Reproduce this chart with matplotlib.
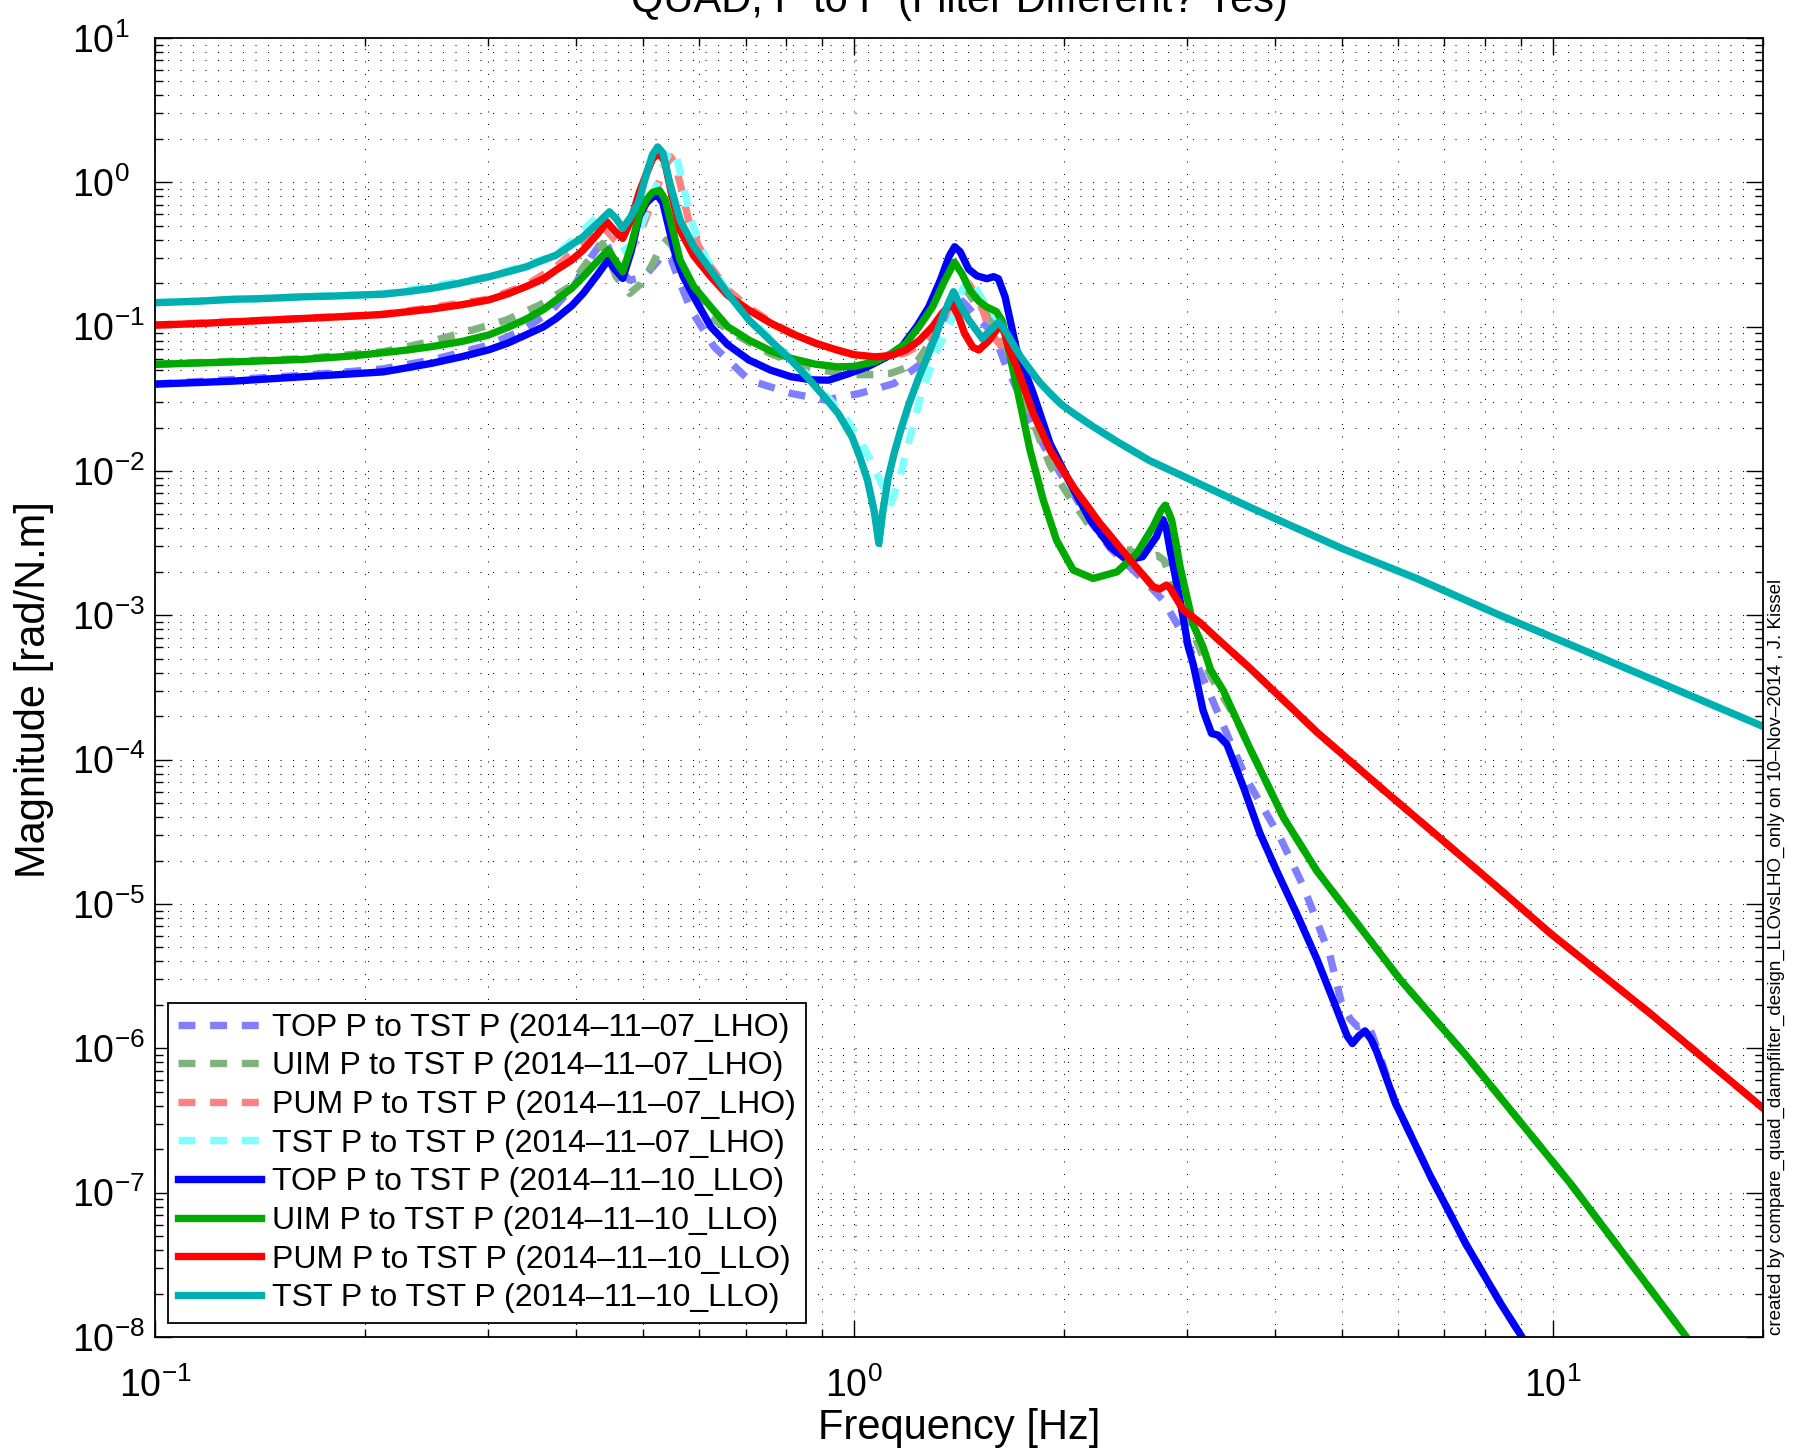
import numpy as np
import matplotlib.pyplot as plt
from matplotlib.ticker import LogLocator, NullFormatter

plt.rcParams['font.family'] = ['Liberation Sans', 'DejaVu Sans']
plt.rcParams['mathtext.fontset'] = 'custom'
plt.rcParams['mathtext.rm'] = 'Liberation Sans'
plt.rcParams['mathtext.default'] = 'regular'

# --- data: (frequency [Hz], magnitude [rad/N.m]) ---
top_lho = [(0.10, 0.040), (0.163, 0.046), (0.212, 0.051), (0.25, 0.059), (0.30, 0.0745),
           (0.336, 0.0946), (0.37, 0.13), (0.40, 0.20), (0.42, 0.30), (0.44, 0.41),
           (0.457, 0.26), (0.478, 0.21), (0.50, 0.22), (0.516, 0.26), (0.535, 0.32),
           (0.547, 0.30), (0.56, 0.22), (0.585, 0.130), (0.631, 0.0726), (0.708, 0.0426),
           (0.813, 0.0345), (0.91, 0.031), (1.02, 0.0345), (1.142, 0.0404), (1.25, 0.0557),
           (1.31, 0.085), (1.363, 0.130), (1.41, 0.16), (1.45, 0.14), (1.50, 0.115),
           (1.55, 0.10), (1.60, 0.08), (1.64, 0.058), (1.72, 0.035), (1.787, 0.0225),
           (1.90, 0.013), (2.04, 0.0075), (2.18, 0.0045), (2.33, 0.0029), (2.50, 0.0021),
           (2.65, 0.0016), (2.77, 0.00127), (2.96, 7.4e-4), (3.20, 3.2e-4), (3.42, 1.5e-4),
           (3.65, 7.3e-5), (4.07, 2.92e-5), (4.40, 1.32e-5), (4.80, 4.41e-6), (4.98, 2.12e-6),
           (5.13, 1.6e-6), (5.26, 1.41e-6), (5.36, 1.45e-6), (5.45, 1.45e-6), (5.55, 1.15e-6),
           (5.70, 8.0e-7), (5.96, 4.15e-7), (6.69, 1.29e-7), (7.51, 4.43e-8), (8.43, 1.70e-8),
           (9.04, 1.0e-8), (9.6, 5.5e-9)]

uim_lho = [(0.10, 0.055), (0.163, 0.060), (0.212, 0.067), (0.247, 0.0785), (0.285, 0.095),
           (0.318, 0.111), (0.355, 0.141), (0.392, 0.189), (0.414, 0.275), (0.437, 0.377),
           (0.457, 0.222), (0.478, 0.17), (0.497, 0.20), (0.515, 0.27), (0.53, 0.36),
           (0.54, 0.40), (0.55, 0.36), (0.565, 0.25), (0.585, 0.17), (0.62, 0.12),
           (0.66, 0.095), (0.708, 0.078), (0.76, 0.065), (0.813, 0.057), (0.88, 0.051),
           (0.946, 0.048), (1.0, 0.0465), (1.07, 0.0465), (1.127, 0.0474), (1.19, 0.052),
           (1.236, 0.0587), (1.29, 0.08), (1.34, 0.12), (1.38, 0.16), (1.42, 0.20),
           (1.46, 0.17), (1.50, 0.14), (1.55, 0.12), (1.60, 0.10), (1.65, 0.075),
           (1.70, 0.05), (1.787, 0.025), (1.85, 0.016), (1.909, 0.011), (2.0, 0.0075),
           (2.18, 0.0041), (2.35, 0.0031), (2.50, 0.00277), (2.62, 0.0025), (2.72, 0.0026),
           (2.78, 0.0024), (2.835, 0.00186), (2.95, 0.0011), (3.10, 6.5e-4), (3.24, 3.8e-4),
           (3.52, 1.94e-4), (3.69, 1.19e-4), (4.12, 3.97e-5), (4.60, 1.69e-5), (5.13, 8.5e-6),
           (6.05, 3.0e-6), (7.51, 9.0e-7), (10.6, 1.16e-7), (15.4, 1.06e-8), (16.5, 6.5e-9)]

pum_lho = [(0.10, 0.1026), (0.163, 0.114), (0.212, 0.1216), (0.30, 0.155), (0.34, 0.195),
           (0.375, 0.26), (0.41, 0.38), (0.425, 0.45), (0.437, 0.50), (0.455, 0.40),
           (0.475, 0.33), (0.49, 0.40), (0.505, 0.58), (0.52, 0.85), (0.535, 1.25),
           (0.547, 1.50), (0.555, 1.35), (0.565, 0.95), (0.58, 0.55), (0.60, 0.36),
           (0.624, 0.26), (0.66, 0.18), (0.708, 0.135), (0.76, 0.108), (0.813, 0.091),
           (0.88, 0.077), (0.946, 0.069), (1.0, 0.064), (1.072, 0.0615), (1.13, 0.062),
           (1.187, 0.066), (1.24, 0.074), (1.30, 0.09), (1.36, 0.12), (1.42, 0.17),
           (1.46, 0.20), (1.50, 0.16), (1.53, 0.13), (1.57, 0.09), (1.62, 0.075),
           (1.667, 0.06), (1.71, 0.05), (1.806, 0.0251), (1.909, 0.01396), (2.06, 0.00778),
           (2.25, 0.00434), (2.51, 0.00229), (2.68, 0.00158), (2.74, 0.00152), (2.80, 0.00162),
           (2.835, 0.00155), (2.96, 0.00109), (3.13, 8.9e-4), (3.30, 7.0e-4), (3.69, 4.3e-4),
           (4.60, 1.55e-4), (5.72, 6.2e-5), (7.13, 2.5e-5), (8.41, 1.26e-5), (9.91, 6.3e-6),
           (13.8, 1.74e-6), (20.0, 3.85e-7)]

tst_lho = [(0.10, 0.1466), (0.163, 0.161), (0.212, 0.168), (0.301, 0.222), (0.375, 0.313),
           (0.409, 0.46), (0.425, 0.55), (0.437, 0.60), (0.455, 0.45), (0.47, 0.34),
           (0.485, 0.38), (0.50, 0.55), (0.515, 0.80), (0.53, 1.2), (0.542, 1.55),
           (0.55, 1.67), (0.558, 1.5), (0.57, 0.95), (0.585, 0.55), (0.60, 0.38),
           (0.624, 0.26), (0.66, 0.175), (0.708, 0.115), (0.76, 0.082), (0.813, 0.060),
           (0.86, 0.046), (0.92, 0.032), (0.97, 0.024), (1.02, 0.0164), (1.06, 0.0115),
           (1.10, 0.0078), (1.132, 0.006), (1.16, 0.0085), (1.187, 0.01324), (1.22, 0.022),
           (1.25, 0.0345), (1.31, 0.0653), (1.38, 0.111), (1.43, 0.18), (1.465, 0.22),
           (1.50, 0.18), (1.545, 0.14), (1.59, 0.12), (1.63, 0.105), (1.66, 0.09),
           (1.70, 0.072), (1.733, 0.0618), (1.80, 0.048), (1.85, 0.0405), (1.909, 0.0345),
           (1.98, 0.029), (2.06, 0.0252), (2.20, 0.0203), (2.38, 0.016), (2.65, 0.0118),
           (2.96, 0.0092), (3.69, 0.0056), (5.0, 0.0029), (6.39, 0.0018), (8.41, 1.0e-3),
           (11.3, 5.5e-4), (20.0, 1.70e-4)]

top_llo = [(0.10, 0.040), (0.115, 0.041), (0.13, 0.042), (0.163, 0.045), (0.19, 0.047),
           (0.212, 0.0486), (0.23, 0.052), (0.25, 0.056), (0.275, 0.062), (0.30, 0.069),
           (0.32, 0.077), (0.34, 0.088), (0.36, 0.100), (0.375, 0.114), (0.395, 0.14),
           (0.41, 0.17), (0.43, 0.23), (0.445, 0.29), (0.455, 0.25), (0.467, 0.216),
           (0.48, 0.33), (0.493, 0.58), (0.505, 0.72), (0.515, 0.79), (0.524, 0.81),
           (0.533, 0.72), (0.545, 0.46), (0.557, 0.30), (0.57, 0.222), (0.595, 0.15),
           (0.624, 0.100), (0.66, 0.075), (0.708, 0.0587), (0.76, 0.050), (0.813, 0.045),
           (0.87, 0.0428), (0.921, 0.0426), (0.98, 0.047), (1.046, 0.0527), (1.11, 0.061),
           (1.171, 0.0726), (1.23, 0.100), (1.28, 0.137), (1.33, 0.21), (1.37, 0.31),
           (1.394, 0.358), (1.42, 0.33), (1.46, 0.25), (1.50, 0.225), (1.55, 0.215),
           (1.585, 0.222), (1.61, 0.215), (1.646, 0.161), (1.71, 0.0689), (1.806, 0.0345),
           (1.909, 0.0155), (2.04, 0.0082), (2.18, 0.00457), (2.33, 0.00298), (2.46, 0.00241),
           (2.59, 0.00255), (2.71, 0.0035), (2.77, 0.0046), (2.80, 0.0040), (2.835, 0.00283),
           (2.93, 0.00127), (3.01, 6.05e-4), (3.06, 4.57e-4), (3.16, 2.2e-4), (3.25, 1.52e-4),
           (3.32, 1.48e-4), (3.42, 1.27e-4), (3.61, 6.47e-5), (3.81, 3.11e-5), (4.03, 1.69e-5),
           (4.30, 8.63e-6), (4.60, 4.14e-6), (4.86, 2.12e-6), (5.08, 1.22e-6), (5.17, 1.08e-6),
           (5.28, 1.22e-6), (5.39, 1.32e-6), (5.50, 1.15e-6), (5.60, 9.5e-7), (5.96, 4.15e-7),
           (6.69, 1.29e-7), (7.51, 4.43e-8), (8.43, 1.70e-8), (9.04, 1.0e-8), (9.6, 5.5e-9)]

uim_llo = [(0.10, 0.0548), (0.115, 0.056), (0.13, 0.057), (0.163, 0.0593), (0.19, 0.0625),
           (0.212, 0.066), (0.23, 0.069), (0.25, 0.073), (0.275, 0.079), (0.30, 0.0875),
           (0.32, 0.099), (0.34, 0.113), (0.36, 0.132), (0.375, 0.153), (0.395, 0.185),
           (0.41, 0.222), (0.43, 0.285), (0.445, 0.34), (0.455, 0.29), (0.467, 0.24),
           (0.48, 0.36), (0.493, 0.60), (0.505, 0.76), (0.515, 0.85), (0.527, 0.88),
           (0.537, 0.76), (0.55, 0.48), (0.564, 0.29), (0.59, 0.19), (0.624, 0.137),
           (0.66, 0.10), (0.708, 0.0807), (0.76, 0.068), (0.813, 0.0603), (0.88, 0.055),
           (0.946, 0.0527), (1.0, 0.053), (1.072, 0.0572), (1.13, 0.065), (1.187, 0.0766),
           (1.24, 0.10), (1.296, 0.137), (1.35, 0.21), (1.393, 0.28), (1.43, 0.23),
           (1.465, 0.18), (1.51, 0.15), (1.549, 0.137), (1.60, 0.127), (1.63, 0.11),
           (1.654, 0.0807), (1.71, 0.0384), (1.787, 0.01396), (1.867, 0.00628), (1.95, 0.00332),
           (2.06, 0.00206), (2.20, 0.0018), (2.38, 0.0020), (2.54, 0.00268), (2.68, 0.0041),
           (2.75, 0.0053), (2.79, 0.0058), (2.82, 0.0052), (2.85, 0.00457), (2.90, 0.0029),
           (2.93, 0.00217), (3.06, 8.6e-4), (3.16, 6.05e-4), (3.24, 4.2e-4), (3.38, 3.0e-4),
           (3.69, 1.19e-4), (4.12, 3.97e-5), (4.60, 1.69e-5), (5.13, 8.5e-6), (6.05, 3.0e-6),
           (7.51, 9.0e-7), (10.6, 1.16e-7), (15.4, 1.06e-8), (16.5, 6.5e-9)]

pum_llo = [(0.10, 0.1026), (0.115, 0.105), (0.13, 0.108), (0.163, 0.114), (0.19, 0.118),
           (0.212, 0.1216), (0.23, 0.127), (0.25, 0.133), (0.275, 0.142), (0.30, 0.153),
           (0.32, 0.169), (0.34, 0.19), (0.36, 0.215), (0.375, 0.247), (0.395, 0.29),
           (0.41, 0.34), (0.43, 0.44), (0.443, 0.533), (0.455, 0.46), (0.467, 0.409),
           (0.48, 0.55), (0.493, 0.85), (0.505, 1.15), (0.515, 1.45), (0.526, 1.60),
           (0.536, 1.40), (0.548, 0.85), (0.564, 0.467), (0.59, 0.31), (0.624, 0.222),
           (0.66, 0.165), (0.708, 0.130), (0.76, 0.106), (0.813, 0.090), (0.88, 0.077),
           (0.946, 0.0689), (1.0, 0.064), (1.072, 0.0618), (1.13, 0.063), (1.187, 0.0689),
           (1.24, 0.080), (1.296, 0.100), (1.34, 0.125), (1.38, 0.145), (1.41, 0.12),
           (1.44, 0.090), (1.48, 0.072), (1.51, 0.0689), (1.56, 0.080), (1.605, 0.097),
           (1.625, 0.10), (1.645, 0.09), (1.667, 0.07), (1.71, 0.0527), (1.806, 0.0251),
           (1.909, 0.01396), (2.06, 0.00778), (2.25, 0.00434), (2.51, 0.00229), (2.68, 0.00158),
           (2.74, 0.00152), (2.80, 0.00162), (2.835, 0.00155), (2.96, 0.00109), (3.13, 8.9e-4),
           (3.30, 7.0e-4), (3.69, 4.3e-4), (4.60, 1.55e-4), (5.72, 6.2e-5), (7.13, 2.5e-5),
           (8.41, 1.26e-5), (9.91, 6.3e-6), (13.8, 1.74e-6), (20.0, 3.85e-7)]

tst_llo = [(0.10, 0.1466), (0.115, 0.150), (0.13, 0.155), (0.14, 0.156), (0.163, 0.161),
           (0.18, 0.163), (0.212, 0.168), (0.23, 0.175), (0.25, 0.185), (0.27, 0.198),
           (0.301, 0.222), (0.32, 0.24), (0.34, 0.26), (0.355, 0.283), (0.375, 0.313),
           (0.39, 0.355), (0.409, 0.416), (0.43, 0.52), (0.447, 0.625), (0.457, 0.56),
           (0.467, 0.48), (0.48, 0.58), (0.493, 0.75), (0.505, 1.15), (0.515, 1.55),
           (0.524, 1.76), (0.533, 1.60), (0.545, 1.0), (0.564, 0.548), (0.59, 0.36),
           (0.624, 0.247), (0.66, 0.17), (0.708, 0.111), (0.76, 0.080), (0.813, 0.0587),
           (0.86, 0.044), (0.899, 0.0345), (0.95, 0.025), (0.994, 0.01726), (1.02, 0.0125),
           (1.046, 0.00865), (1.07, 0.0052), (1.086, 0.00315), (1.10, 0.0052), (1.12, 0.009),
           (1.142, 0.01324), (1.17, 0.020), (1.20, 0.0294), (1.24, 0.045), (1.28, 0.0653),
           (1.346, 0.1236), (1.389, 0.1746), (1.42, 0.14), (1.461, 0.111), (1.527, 0.083),
           (1.57, 0.095), (1.614, 0.108), (1.66, 0.088), (1.70, 0.072), (1.733, 0.0618),
           (1.80, 0.048), (1.85, 0.0405), (1.909, 0.0345), (1.98, 0.029), (2.06, 0.0252),
           (2.20, 0.0203), (2.38, 0.016), (2.65, 0.0118), (2.96, 0.0092), (3.69, 0.0056),
           (5.0, 0.0029), (6.39, 0.0018), (8.41, 1.0e-3), (11.3, 5.5e-4), (20.0, 1.70e-4)]

labels = ['TOP P to TST P (2014\u201311\u201307_LHO)', 'UIM P to TST P (2014\u201311\u201307_LHO)',
          'PUM P to TST P (2014\u201311\u201307_LHO)', 'TST P to TST P (2014\u201311\u201307_LHO)',
          'TOP P to TST P (2014\u201311\u201310_LLO)', 'UIM P to TST P (2014\u201311\u201310_LLO)',
          'PUM P to TST P (2014\u201311\u201310_LLO)', 'TST P to TST P (2014\u201311\u201310_LLO)']
series = [top_lho, uim_lho, pum_lho, tst_lho, top_llo, uim_llo, pum_llo, tst_llo]
colors = ['#8080ff', '#7fb27f', '#ff8080', '#80ffff', '#0000ff', '#00aa00', '#ff0000', '#00b0b0']
dashed = [True] * 4 + [False] * 4

# --- figure ---
W, H = 1798, 1452
fig = plt.figure(figsize=(W / 100, H / 100), dpi=100)
ax = fig.add_axes([155 / W, 1 - 1337 / H, 1608 / W, 1299 / H])

for pts, lab, col, dsh in zip(series, labels, colors, dashed):
    f, m = np.array(pts).T
    if dsh:
        ax.loglog(f, m, color=col, lw=5.3, ls=(0, (2.3, 2.0)), label=lab)
    else:
        ax.loglog(f, m, color=col, lw=5.3, label=lab)

ax.set_xlim(0.1, 20)
ax.set_ylim(1e-8, 10)
ax.set_yticks([10.0 ** k for k in range(-8, 2)])
ax.set_xticks([0.1, 1, 10])
for axis in (ax.xaxis, ax.yaxis):
    axis.set_minor_locator(LogLocator(base=10, subs=np.arange(2, 10), numticks=100))
    axis.set_minor_formatter(NullFormatter())

ax.grid(True, which='both', color='k', lw=0.75, ls=(0, (1, 11)))
ax.set_axisbelow(True)
for s in ax.spines.values():
    s.set_linewidth(1.3)

ax.tick_params(which='both', direction='in', top=True, right=True, width=1.0)
ax.tick_params(which='major', length=12, labelsize=27)
ax.tick_params(which='minor', length=6)
ax.tick_params(axis='x', which='major', pad=22)
ax.tick_params(axis='y', which='major', pad=60)
plt.setp(ax.yaxis.get_majorticklabels(), ha='left')

fig.text(959 / W, 1 - 1428 / H, 'Frequency [Hz]', fontsize=30, ha='center', va='center')
fig.text(34 / W, 1 - 690 / H, 'Magnitude [rad/N.m]', fontsize=30, rotation=90,
         ha='center', va='center')
fig.text(959 / W, 1 - 12 / H, 'QUAD, P to P (Filter Different? Yes)', fontsize=30,
         ha='center', va='baseline')
fig.text(1776 / W, 1 - 957 / H,
         'created by compare_quad_dampfilter_design_LLOvsLHO_only on 10\u2013Nov\u20132014 , J. Kissel',
         fontsize=13.5, rotation=90, ha='center', va='center')

leg = ax.legend(loc='lower left', bbox_to_anchor=(0.0083, 0.011), borderaxespad=0,
                fontsize=23, handlelength=2.6, handletextpad=0.35, labelspacing=0.27,
                borderpad=0.3, fancybox=False, framealpha=1, edgecolor='k')
leg.get_frame().set_linewidth(1.3)

fig.savefig('out.png', dpi=100)
